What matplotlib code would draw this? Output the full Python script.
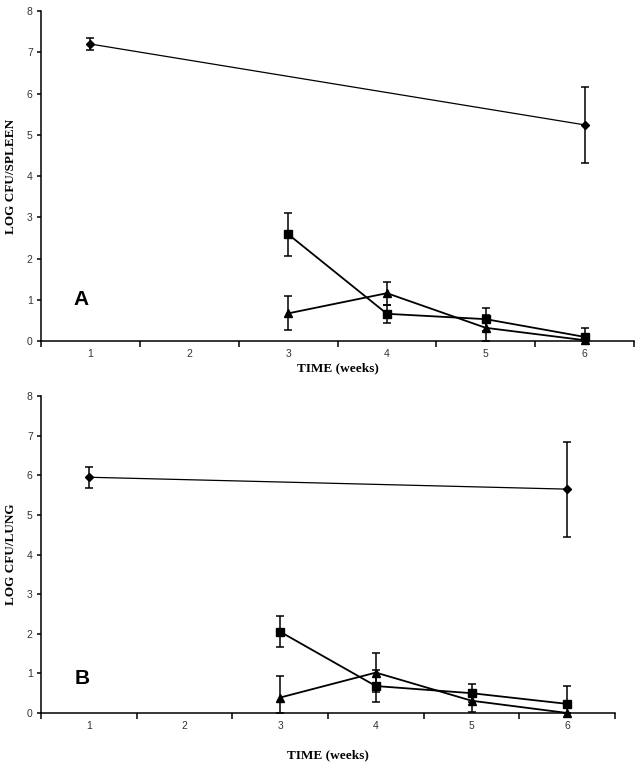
import numpy as np
import matplotlib
matplotlib.use("Agg")
import matplotlib.pyplot as plt

# categories (weeks) on a category axis
weeks = [1, 2, 3, 4, 5, 6]

# panel A: spleen
a_dia_x = [1, 6]
a_dia_y = [7.20, 5.24]
a_dia_e = [0.15, 0.92]
a_sq_x = [3, 4, 5, 6]
a_sq_y = [2.59, 0.66, 0.53, 0.10]
a_sq_e = [0.52, 0.22, 0.28, 0.21]
a_tri_x = [3, 4, 5, 6]
a_tri_y = [0.67, 1.16, 0.32, 0.02]
a_tri_e = [0.41, 0.28, 0.32, 0.0]

# panel B: lung
b_dia_x = [1, 6]
b_dia_y = [5.95, 5.65]
b_dia_e = [0.27, 1.20]
b_sq_x = [3, 4, 5, 6]
b_sq_y = [2.05, 0.68, 0.50, 0.23]
b_sq_e = [0.39, 0.41, 0.22, 0.45]
b_tri_x = [3, 4, 5, 6]
b_tri_y = [0.39, 1.02, 0.31, 0.0]
b_tri_e = [0.55, 0.50, 0.28, 0.0]

SERIF = "Liberation Serif"
SANS = "Liberation Sans"


def series(ax, x, y, e, marker, ms, lw):
    y = np.asarray(y)
    e = np.asarray(e)
    # bars stop at the x axis (log count can't go below 0 on this plot)
    yerr = [np.minimum(e, y), e]
    ax.errorbar(x, y, yerr=yerr, color="black", lw=lw, marker=marker, ms=ms,
                mfc="black", mec="black", ecolor="black", elinewidth=1.1,
                capsize=3, capthick=1.1, clip_on=False)


def panel(ax, dia, sq, tri, ylabel, letter, ylab_x, xlab_y, letter_xy):
    series(ax, *dia, marker="D", ms=4.5, lw=0.9)
    series(ax, *sq, marker="s", ms=6, lw=1.3)
    series(ax, *tri, marker="^", ms=6, lw=1.3)

    ax.set_xlim(0.5, 6.5)
    ax.set_ylim(0, 8)
    for s in ("top", "right"):
        ax.spines[s].set_visible(False)
    for s in ("left", "bottom"):
        ax.spines[s].set_linewidth(1.1)

    ax.set_xticks(weeks)
    ax.set_xticklabels([str(w) for w in weeks], fontsize=7.5, family=SANS, color="#333333")
    ax.set_xticks(np.arange(0.5, 7, 1), minor=True)
    ax.tick_params(axis="x", which="major", length=0, pad=6)
    ax.tick_params(axis="x", which="minor", length=4, width=1.1, direction="out")
    ax.set_yticks(range(0, 9))
    ax.set_yticklabels([str(v) for v in range(0, 9)], fontsize=7.5, family=SANS, color="#333333")
    ax.tick_params(axis="y", length=3, width=1.1, direction="out", pad=3)

    ax.set_ylabel(ylabel, family=SERIF, fontweight="bold", fontsize=9.5)
    ax.yaxis.set_label_coords(ylab_x, 0.5)
    ax.set_xlabel("TIME (weeks)", family=SERIF, fontweight="bold", fontsize=9.5)
    ax.xaxis.set_label_coords(0.5, xlab_y)
    ax.text(letter_xy[0], letter_xy[1], letter, transform=ax.transAxes, family=SANS,
            fontweight="bold", fontsize=15, va="center", ha="left")


fig = plt.figure(figsize=(6.44, 7.66), dpi=100)
ax_a = fig.add_axes([0.0637, 0.5548, 0.9208, 0.4308])
ax_b = fig.add_axes([0.0637, 0.0692, 0.8913, 0.4138])

panel(ax_a, (a_dia_x, a_dia_y, a_dia_e), (a_sq_x, a_sq_y, a_sq_e),
      (a_tri_x, a_tri_y, a_tri_e), "LOG CFU/SPLEEN", "A", -0.040, -0.065, (0.055, 0.125))
panel(ax_b, (b_dia_x, b_dia_y, b_dia_e), (b_sq_x, b_sq_y, b_sq_e),
      (b_tri_x, b_tri_y, b_tri_e), "LOG CFU/LUNG", "B", -0.042, -0.115, (0.058, 0.11))

fig.savefig("out.png", dpi=100)
